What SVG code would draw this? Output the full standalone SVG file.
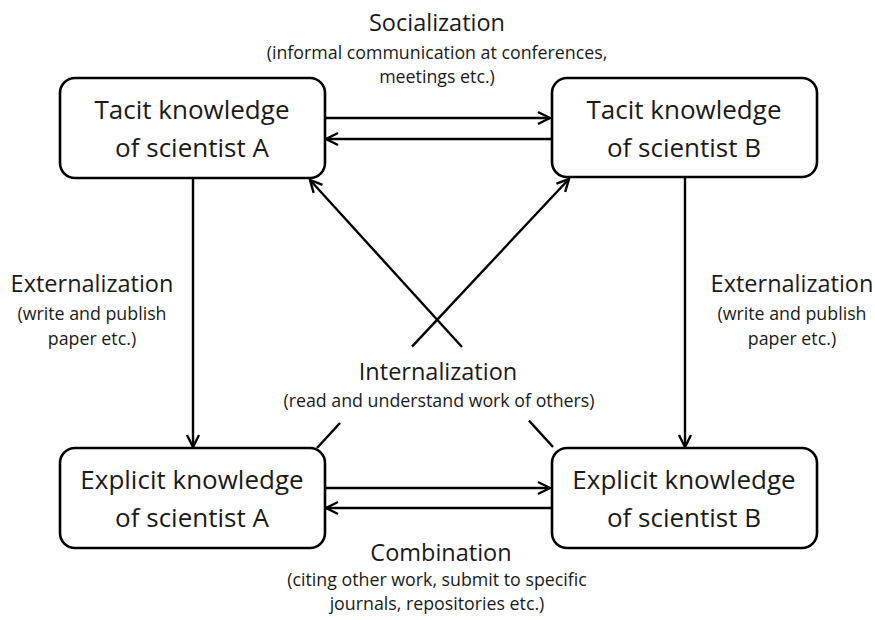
<svg xmlns="http://www.w3.org/2000/svg" width="875" height="620" viewBox="0 0 875 620">
<style>
.box{fill:#fff;stroke:#000;stroke-width:2.6}
.lnk{fill:none;stroke:#000;stroke-width:2.4}
.arr{marker-end:url(#ah)}
.nt{font-family:"Open Sans","Noto Sans",sans-serif;font-size:26px;fill:#1a1a1a;text-anchor:middle}
.hd{font-family:"Open Sans","Noto Sans",sans-serif;font-size:23.5px;fill:#1a1a1a;text-anchor:middle}
.sb{font-family:"Open Sans","Noto Sans",sans-serif;font-size:17.8px;fill:#1a1a1a;text-anchor:middle}
</style>
<defs>
<marker id="ah" markerUnits="userSpaceOnUse" markerWidth="16" markerHeight="16" refX="13" refY="7" orient="auto" overflow="visible">
<path d="M1,1 L13,7 L1,13" fill="none" stroke="#000" stroke-width="2.4"/>
</marker>
</defs>
<rect width="875" height="620" fill="#fff"/>
<g id="connectors">
<line class="lnk arr" x1="325" y1="118" x2="550" y2="118"/>
<line class="lnk arr" x1="552" y1="139" x2="326" y2="139"/>
<line class="lnk arr" x1="325" y1="488" x2="550" y2="488"/>
<line class="lnk arr" x1="552" y1="508" x2="326" y2="508"/>
<line class="lnk arr" x1="193" y1="178" x2="193" y2="447"/>
<line class="lnk arr" x1="685" y1="177" x2="685" y2="447"/>
<line class="lnk" x1="317" y1="448" x2="340" y2="423"/>
<line class="lnk arr" x1="412" y1="346.6" x2="569" y2="179"/>
<line class="lnk" x1="553" y1="447" x2="529" y2="420.6"/>
<line class="lnk arr" x1="462" y1="347" x2="310" y2="180"/>
</g>
<g id="tacitA">
<rect class="box" x="60" y="78" width="265" height="100" rx="15"/>
<text class="nt" x="192" y="119">Tacit knowledge</text>
<text class="nt" x="192" y="157">of scientist A</text>
</g>
<g id="tacitB">
<rect class="box" x="552" y="78" width="265" height="99" rx="15"/>
<text class="nt" x="684" y="119">Tacit knowledge</text>
<text class="nt" x="684" y="157">of scientist B</text>
</g>
<g id="explicitA">
<rect class="box" x="60" y="448" width="265" height="100" rx="15"/>
<text class="nt" x="192" y="489">Explicit knowledge</text>
<text class="nt" x="192" y="527">of scientist A</text>
</g>
<g id="explicitB">
<rect class="box" x="552" y="448" width="265" height="100" rx="15"/>
<text class="nt" x="684" y="489">Explicit knowledge</text>
<text class="nt" x="684" y="527">of scientist B</text>
</g>
<g id="labels">
<text class="hd" x="437" y="31">Socialization</text>
<text class="sb" x="437" y="59">(informal communication at conferences,</text>
<text class="sb" x="437" y="83">meetings etc.)</text>
<text class="hd" x="92" y="292">Externalization</text>
<text class="sb" x="92" y="320">(write and publish</text>
<text class="sb" x="92" y="345">paper etc.)</text>
<text class="hd" x="792" y="292">Externalization</text>
<text class="sb" x="792" y="320">(write and publish</text>
<text class="sb" x="792" y="345">paper etc.)</text>
<text class="hd" x="438" y="380">Internalization</text>
<text class="sb" x="439" y="407">(read and understand work of others)</text>
<text class="hd" x="441" y="561">Combination</text>
<text class="sb" x="437" y="586">(citing other work, submit to specific</text>
<text class="sb" x="437" y="610">journals, repositories etc.)</text>
</g>
</svg>
